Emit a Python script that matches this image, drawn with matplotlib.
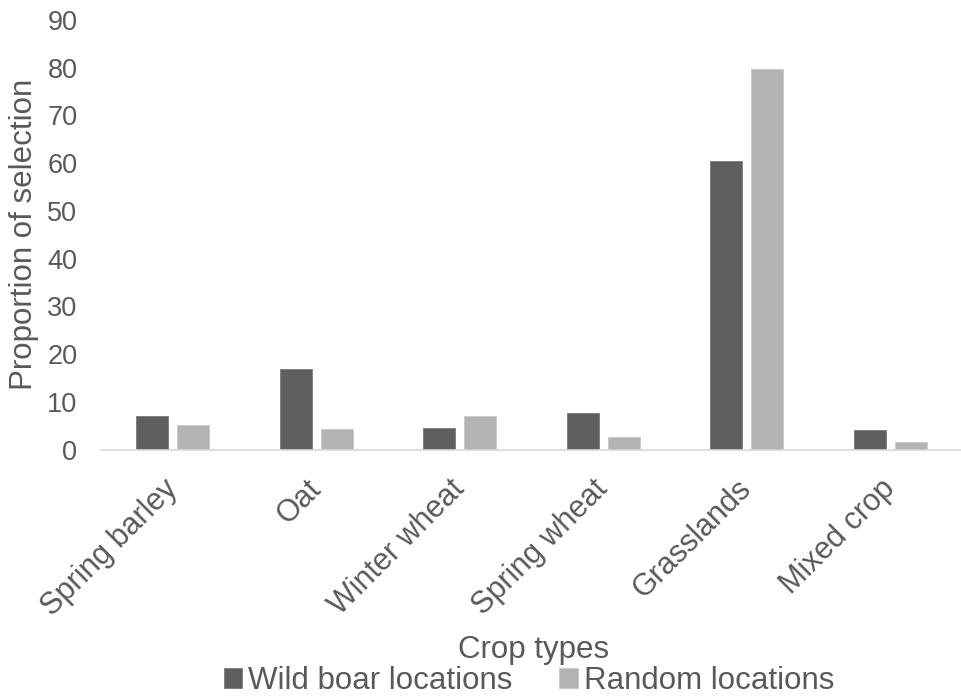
import matplotlib
matplotlib.use("Agg")
import matplotlib.pyplot as plt
import numpy as np

categories = ["Spring barley", "Oat", "Winter wheat", "Spring wheat", "Grasslands", "Mixed crop"]
wild_boar = [7.0, 16.8, 4.5, 7.6, 60.4, 4.1]
random_loc = [5.1, 4.3, 7.0, 2.6, 79.8, 1.6]
yticks = [0, 10, 20, 30, 40, 50, 60, 70, 80, 90]

text_color = "#595959"
dark = "#5f5f5f"
light = "#b3b3b3"

plt.rcParams["font.family"] = ["Liberation Sans", "DejaVu Sans"]

fig = plt.figure(figsize=(9.62, 6.97), dpi=100)
ax = fig.add_axes([101 / 962, 1 - 449.5 / 697, 1 - 101 / 962, (449.5 - 20) / 697])

x = np.arange(len(categories))
w = 0.222
gap = 0.0625
ax.bar(x - (w + gap) / 2, wild_boar, width=w, color=dark, edgecolor="#7a7a7a",
       linewidth=0.6, label="Wild boar locations")
ax.bar(x + (w + gap) / 2, random_loc, width=w, color=light, edgecolor="#c8c8c8",
       linewidth=0.6, label="Random locations")

ax.set_xlim(-0.5, len(categories) - 0.5)
ax.set_ylim(0, 90)
ax.set_yticks(yticks)
ax.set_yticklabels([str(v) for v in yticks], fontsize=19.5)
ax.set_xticks(x)
ax.set_xticklabels(categories, rotation=45, ha="right", va="center",
                   rotation_mode="anchor", fontsize=22)

for s in ["top", "right", "left"]:
    ax.spines[s].set_visible(False)
ax.spines["bottom"].set_color("#d9d9d9")
ax.spines["bottom"].set_linewidth(1.2)
ax.tick_params(axis="both", length=0, colors=text_color)
ax.tick_params(axis="y", pad=17)
ax.tick_params(axis="x", pad=25)

ax.set_ylabel("Proportion of selection", fontsize=22.5, color=text_color, labelpad=6)
fig.text(534 / 962, 1 - 650 / 697, "Crop types", fontsize=22.5, color=text_color,
         ha="center", va="center")

leg = fig.legend(loc="center", bbox_to_anchor=(529 / 962, 1 - 681 / 697), ncol=2,
                 frameon=False, fontsize=22.5, handlelength=0.58, handleheight=0.58,
                 handletextpad=0.2, columnspacing=1.5, borderpad=0)
for t in leg.get_texts():
    t.set_color(text_color)

fig.savefig("out.png", dpi=100)
